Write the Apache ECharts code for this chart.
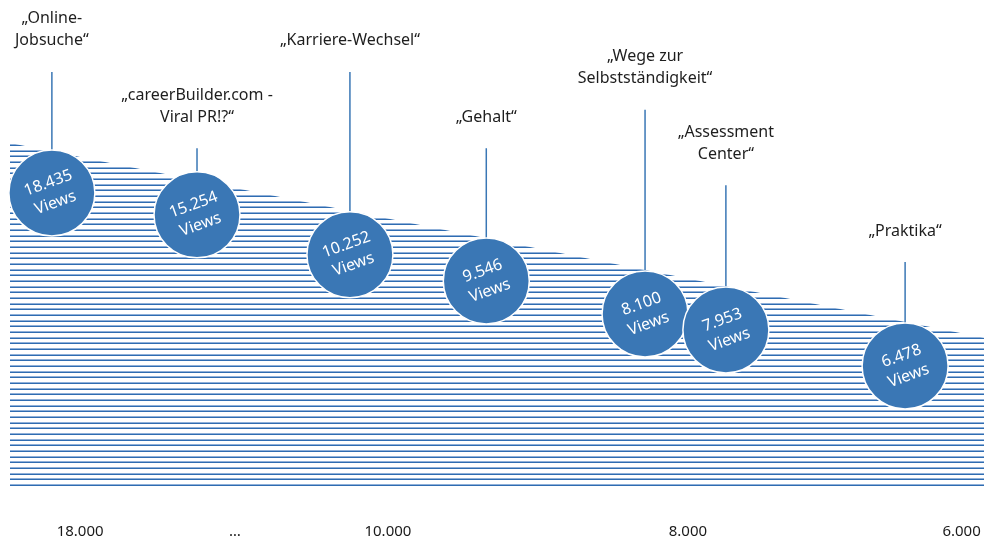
<!DOCTYPE html>
<html><head><meta charset="utf-8">
<script src="https://cdn.jsdelivr.net/npm/echarts@6/dist/echarts.min.js"></script>
<style>html,body{margin:0;padding:0;background:#fff}#c{width:984px;height:540px}</style>
</head><body><div id="c"></div>
<script>
// ---- data ----
const topics = ['„Online-\nJobsuche“', '„careerBuilder.com -\nViral PR!?“', '„Karriere-Wechsel“', '„Gehalt“', '„Wege zur\nSelbstständigkeit“', '„Assessment\nCenter“', '„Praktika“'];
const views = ['18.435', '15.254', '10.252', '9.546', '8.100', '7.953', '6.478'];
const bubbleX = [4.3, 19.2, 34.9, 48.9, 65.2, 73.5, 91.9];
const bubbleY = [60.3, 55.8, 47.6, 42.2, 35.4, 32.1, 24.7];
const stemTopY = [85.2, 69.5, 85.2, 69.5, 77.4, 61.9, 46.1];
const areaX = [0, 100];
const areaY = [70.6, 30.5];
const tickPos = [7.2, 23.1, 38.8, 69.6, 97.7];
const tickLabels = ['18.000', '…', '10.000', '8.000', '6.000'];

// ---- hatch pattern ----
const pat = document.createElement('canvas');
pat.width = 8; pat.height = 17;
const pc = pat.getContext('2d');
[2, 8, 14].forEach(o => {
  pc.fillStyle = '#8fb0d9'; pc.fillRect(0, o, 8, 1);
  pc.fillStyle = '#2f6cb1'; pc.fillRect(0, o + 1, 8, 1);
});

const FONT = "'Noto Sans', 'Open Sans', sans-serif";
const BLUE = '#3a77b5';
const chart = echarts.init(document.getElementById('c'), null, {renderer: 'canvas'});
chart.setOption({
  animation: false,
  backgroundColor: '#fff',
  grid: {left: 10, right: 0, top: 0, bottom: 54},
  xAxis: {
    type: 'value', min: 0, max: 100,
    axisLine: {show: false}, axisTick: {show: false}, splitLine: {show: false},
    axisLabel: {
      customValues: tickPos,
      formatter: v => tickLabels[tickPos.indexOf(v)] || '',
      margin: 38, fontSize: 15, color: '#1a1a1a', fontFamily: FONT
    }
  },
  yAxis: {type: 'value', min: 0, max: 100, show: false},
  series: [
    {
      type: 'line', silent: true, z: 1,
      data: areaX.map((x, i) => [x, areaY[i]]),
      symbol: 'none',
      lineStyle: {width: 0},
      areaStyle: {color: {image: pat, repeat: 'repeat'}, opacity: 1}
    },
    {
      type: 'custom', silent: true, z: 2,
      data: bubbleX.map((x, i) => [x, stemTopY[i], bubbleY[i], i]),
      renderItem: (params, api) => {
        const x = api.value(0);
        const top = api.coord([x, api.value(1)]);
        const bot = api.coord([x, api.value(2)]);
        const i = api.value(3);
        return {
          type: 'group',
          children: [
            {type: 'line', shape: {x1: top[0], y1: top[1], x2: bot[0], y2: bot[1]},
             style: {stroke: BLUE, lineWidth: 1.5}},
            {type: 'text', x: top[0], y: top[1] - 20,
             style: {text: topics[i], align: 'center', verticalAlign: 'bottom',
                     fontSize: 16, lineHeight: 22, fill: '#1e1e1e', fontFamily: FONT}}
          ]
        };
      }
    },
    {
      type: 'scatter', z: 3, silent: true,
      data: bubbleX.map((x, i) => [x, bubbleY[i]]),
      symbol: 'circle', symbolSize: 86,
      itemStyle: {color: BLUE, opacity: 1, borderColor: '#fff', borderWidth: 1.5},
      label: {
        show: true, position: 'inside', rotate: 20,
        formatter: p => views[p.dataIndex] + '\nViews',
        color: '#fff', fontSize: 16, lineHeight: 21, fontFamily: FONT
      }
    }
  ]
});
</script></body></html>
